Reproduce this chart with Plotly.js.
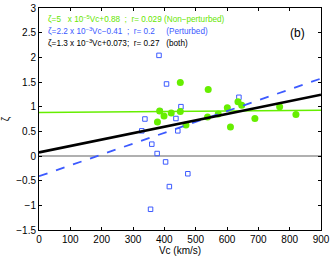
<!DOCTYPE html>
<html><head><meta charset="utf-8">
<script src="https://cdn.plot.ly/plotly-3.0.1.min.js"></script>
<style>html,body{margin:0;padding:0;background:#fff}#c{width:332px;height:256px}</style>
</head><body><div id="c"></div>
<script>
// Non-perturbed (green dots)
const npVc   = [451, 540, 422, 451, 469, 538, 572, 601, 635, 647, 768, 820, 689, 611, 378, 399, 385];
const npZeta = [1.49, 1.35, 0.87, 0.90, 0.63, 0.79, 0.85, 0.98, 1.10, 1.03, 1.00, 0.84, 0.76, 0.59, 0.69, 0.81, 0.91];
// Perturbed (blue squares)
const pVc   = [383, 407, 453, 386, 338, 437, 638, 328, 443, 360, 377, 404, 475, 416, 356];
const pZeta = [2.04, 1.46, 1.00, 0.91, 0.75, 0.76, 1.19, 0.51, 0.51, 0.24, 0.05, -0.12, -0.36, -0.62, -1.08];
// Fit coefficients [slope, intercept]
const fitNP = [5e-5, 0.88];
const fitP = [2.2e-3, -0.41];
const fitBoth = [1.3e-3, 0.073];
const fitRange = [0, 900];
const xTicks = [0,100,200,300,400,500,600,700,800,900];
const yTicks = [-1.5,-1,-0.5,0,0.5,1,1.5,2,2.5,3];

const line = (f) => fitRange.map(v => f[0]*v + f[1]);
const green = 'rgb(102,238,0)';
const blue = 'rgb(60,90,255)';

const traces = [
  {x: fitRange, y: [0,0], mode:'lines', line:{color:'rgb(150,150,150)', width:1.5}, hoverinfo:'skip'},
  {x: fitRange, y: line(fitNP), mode:'lines', line:{color:green, width:1.5}},
  {x: pVc, y: pZeta, mode:'markers', marker:{symbol:'square-open', size:4.5, color:blue, line:{width:1, color:blue}}},
  {x: npVc, y: npZeta, mode:'markers', marker:{symbol:'circle', size:7, color:green}},
  {x: fitRange, y: line(fitP), mode:'lines', line:{color:blue, width:1.8, dash:'dash'}},
  {x: fitRange, y: line(fitBoth), mode:'lines', line:{color:'black', width:2.6}}
];

const axBase = {showgrid:false, zeroline:false, showline:true, linecolor:'black', linewidth:1,
  mirror:'ticks', ticks:'inside', ticklen:3, tickcolor:'black', tickwidth:1,
  tickfont:{size:10, color:'black', family:'Liberation Sans, Arial, sans-serif'}};

const fnt = (c) => ({size:8.2, color:c, family:'Liberation Sans, Arial, sans-serif'});

const layout = {
  width:332, height:256, margin:{l:39, r:11, t:8, b:26},
  paper_bgcolor:'white', plot_bgcolor:'white', showlegend:false,
  xaxis: Object.assign({}, axBase, {range:[0,900], tickvals:xTicks, ticktext:xTicks.map(String),
    title:{text:'Vc (km/s)', font:{size:10, color:'black', family:'Liberation Sans, Arial, sans-serif'}, standoff:1}}),
  yaxis: Object.assign({}, axBase, {range:[-1.5,3], tickvals:yTicks, ticktext:yTicks.map(v=>String(v).replace('-','−')),
    title:{text:'ζ', font:{size:10, color:'black', family:'Liberation Sans, Arial, sans-serif'}, standoff:4}}),
  annotations:[
    {xref:'paper', yref:'paper', x:0.025, y:0.95, xanchor:'left', yanchor:'middle', showarrow:false,
     text:'ζ=5&nbsp;&nbsp;&nbsp;x 10<sup>−5</sup>Vc+0.88&nbsp;&nbsp;;&nbsp;&nbsp;r= 0.029 (Non−perturbed)', font:fnt('rgb(102,230,0)')},
    {xref:'paper', yref:'paper', x:0.025, y:0.896, xanchor:'left', yanchor:'middle', showarrow:false,
     text:'ζ=2.2 x 10<sup>−3</sup>Vc−0.41&nbsp;&nbsp;;&nbsp;&nbsp;r= 0.2&nbsp;&nbsp;&nbsp;&nbsp;&nbsp;(Perturbed)', font:fnt(blue)},
    {xref:'paper', yref:'paper', x:0.025, y:0.842, xanchor:'left', yanchor:'middle', showarrow:false,
     text:'ζ=1.3 x 10<sup>−3</sup>Vc+0.073;&nbsp;&nbsp;r= 0.27&nbsp;&nbsp;&nbsp;(both)', font:fnt('black')},
    {xref:'paper', yref:'paper', x:0.915, y:0.887, xanchor:'center', yanchor:'middle', showarrow:false,
     text:'(b)', font:{size:12, color:'black', family:'Liberation Sans, Arial, sans-serif'}}
  ]
};
Plotly.newPlot('c', traces, layout, {staticPlot:true, displayModeBar:false});
</script></body></html>
